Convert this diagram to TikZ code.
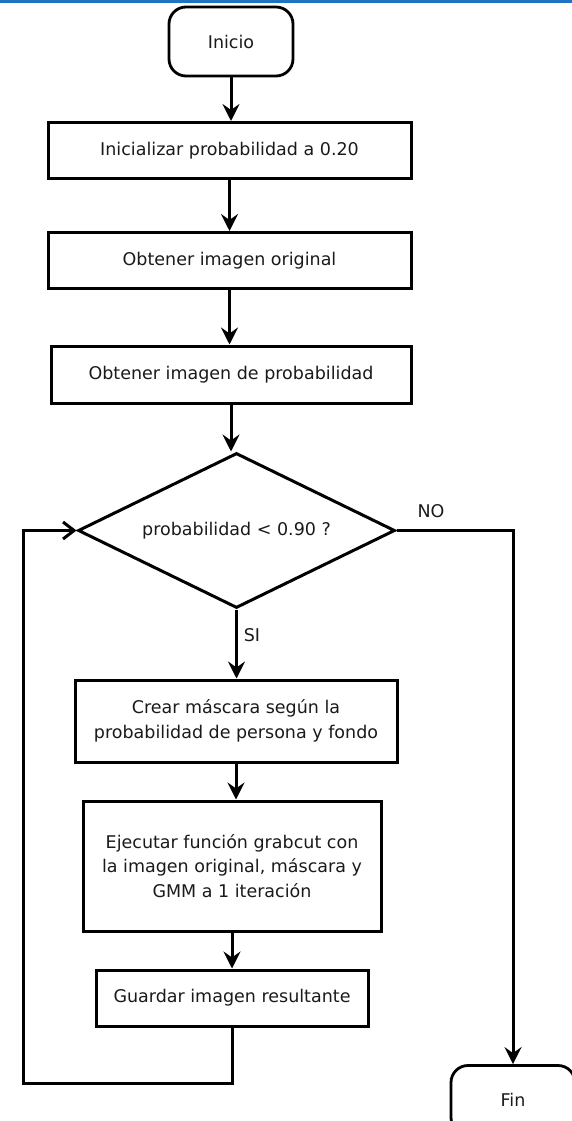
\documentclass[tikz,border=0pt]{standalone}
\usepackage{fontspec}
\setmainfont{DejaVu Sans}
\usepackage{tikz}
\usetikzlibrary{positioning,arrows.meta,calc,shapes.geometric}
\definecolor{topbar}{HTML}{1F74BF}
\definecolor{ink}{HTML}{1A1A1A}

\begin{document}
\begin{tikzpicture}[x=1pt,y=-1pt,font=\fontsize{17.5}{24.5}\selectfont,text=ink,
  proc/.style={draw,line width=3pt,align=center,inner sep=0pt},
  term/.style={draw,line width=2.8pt,rounded corners=17pt,minimum width=124pt,minimum height=69pt,inner sep=0pt},
  dec/.style={draw,diamond,line width=3pt,aspect=2,inner sep=0pt,minimum width=317pt,minimum height=155pt},
  flow/.style={line width=3pt,-{Stealth[length=17pt,width=17pt,inset=6pt]}}]
\useasboundingbox (0,0) rectangle (572,1121);
\clip (0,0) rectangle (572,1121);
\fill[topbar] (0,0) rectangle (572,3);
\node[term] (inicio) at (231,41.5) {Inicio};
\node[proc,minimum width=363pt,minimum height=56pt] (initprob) at (229.5,150.5) {Inicializar probabilidad a 0.20};
\node[proc,minimum width=363pt,minimum height=56pt] (getorig) at (229.5,260.5) {Obtener imagen original};
\node[proc,minimum width=360pt,minimum height=57pt] (getprob) at (231,374.5) {Obtener imagen de probabilidad};
\node[dec] (check) at (236.5,530.5) {probabilidad < 0.90 ?};
\node[proc,minimum width=322pt,minimum height=82pt] (mask) at (236,721) {Crear máscara según la\\probabilidad de persona y fondo};
\node[proc,minimum width=298pt,minimum height=130pt] (grabcut) at (232,866) {Ejecutar función grabcut con\\la imagen original, máscara y\\GMM a 1 iteración};
\node[proc,minimum width=272pt,minimum height=56pt] (save) at (232,998) {Guardar imagen resultante};
\node[term] (fin) at (513,1100) {Fin};
\node (nolbl) at (431,511) {NO};
\node (silbl) at (252,635) {SI};
\coordinate (loop) at (23,1083);
\draw[flow] (inicio.south) -- (inicio.south |- initprob.north);
\draw[flow] (initprob.south) -- (initprob.south |- getorig.north);
\draw[flow] (getorig.south) -- (getorig.south |- getprob.north);
\draw[flow] (getprob.south) -- (getprob.south |- check.north);
\draw[flow] (check.south) -- (check.south |- mask.north);
\draw[flow] (mask.south) -- (mask.south |- grabcut.north);
\draw[flow] (grabcut.south) -- (grabcut.south |- save.north);
\draw[flow] (check.east) -| (fin.north);
\draw[line width=3pt,-{Straight Barb[length=11pt,width=17pt]}] (save.south) |- (loop) |- (check.west);
\end{tikzpicture}
\end{document}
